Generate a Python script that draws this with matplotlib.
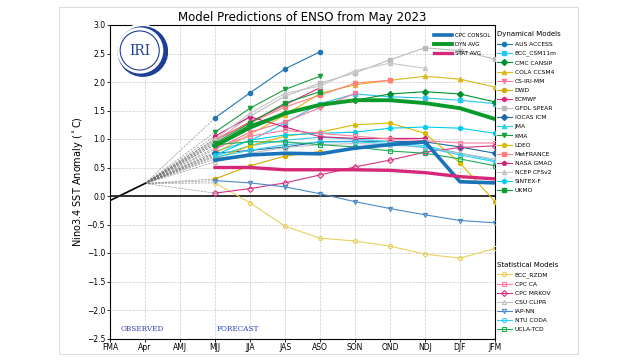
import numpy as np
import matplotlib
matplotlib.use("Agg")
from matplotlib import pyplot as plt
from matplotlib.patches import Circle, Rectangle

# season labels on the x axis
seasons = ['FMA', 'Apr', 'AMJ', 'MJJ', 'JJA', 'JAS', 'ASO', 'SON', 'OND', 'NDJ', 'DJF', 'JFM']

# observed values (FMA, Apr)
observed = [-0.08, 0.22]

# dynamical models, forecasts start at MJJ
aus_access = [1.37, 1.81, 2.23, 2.53]
bcc_csm11m = [0.78, 0.97, 1.28, 1.62, 1.79, 1.74, 1.72, 1.68, 1.62]
cmc_cansip = [0.90, 1.25, 1.45, 1.58, 1.68, 1.79, 1.83, 1.79, 1.65]
cola_ccsm4 = [0.75, 1.08, 1.42, 1.80, 1.95, 2.03, 2.10, 2.05, 1.91]
cs_iri_mm = [0.82, 1.12, 1.30, 1.55, 1.80]
dwd = [0.30, 0.53, 0.70, 0.78]
ecmwf = [0.97, 1.30, 1.60, 1.90]
gfdl_spear = [0.95, 1.40, 1.75, 1.98, 2.16, 2.39, 2.60, 2.55, 2.40]
iocas_icm = [0.75, 0.80, 0.86, 0.95, 0.96, 0.96, 0.95, 0.86, 0.75]
jma = [0.70, 0.88, 0.98, 1.03, 1.00, 0.95, 0.88, 0.75, 0.62]
kma = [1.12, 1.54, 1.87, 2.10]
ldeo = [0.65, 0.88, 1.05, 1.12, 1.25, 1.28, 1.10, 0.58, -0.10]
metfrance = [1.00, 1.28, 1.56, 1.77, 1.98, 2.03]
nasa_gmao = [1.05, 1.39, 1.21, 1.04, 1.01, 1.01, 1.01]
ncep_cfsv2 = [1.00, 1.45, 1.80, 1.93, 2.20, 2.33, 2.24]
sintex_f = [0.72, 0.98, 1.07, 1.10, 1.12, 1.19, 1.21, 1.19, 1.10]
ukmo = [0.93, 1.28, 1.63, 1.83]

# statistical models
bcc_rzdm = [0.23, -0.12, -0.53, -0.74, -0.79, -0.88, -1.02, -1.09, -0.92]
cpc_ca = [0.85, 1.05, 1.15, 1.10, 1.05, 1.00, 0.97, 0.93, 0.93]
cpc_mrkov = [0.05, 0.13, 0.23, 0.37, 0.51, 0.63, 0.77, 0.85, 0.88]
csu_clipr = [0.60, 0.75, 0.85, 0.90, 0.92, 0.90, 0.85, 0.75, 0.65]
iap_nn = [0.27, 0.23, 0.16, 0.04, -0.10, -0.22, -0.33, -0.43, -0.47]
ntu_coda = [0.68, 0.80, 0.90, 0.95, 0.95, 0.92, 0.85, 0.72, 0.60]
ucla_tcd = [0.90, 0.95, 0.95, 0.90, 0.86, 0.79, 0.75, 0.65, 0.53]

# averages
cpc_consol = [0.63, 0.72, 0.75, 0.74, 0.84, 0.90, 0.95, 0.25, 0.23]
dyn_avg = [0.88, 1.20, 1.45, 1.60, 1.68, 1.68, 1.63, 1.54, 1.35]
stat_avg = [0.50, 0.50, 0.46, 0.46, 0.46, 0.45, 0.41, 0.34, 0.30]

dyn_models = [
    ('AUS ACCESS', aus_access, '#1f77b4', 'o'),
    ('BCC_CSM11m', bcc_csm11m, '#2bc4f0', 's'),
    ('CMC CANSIP', cmc_cansip, '#008f2f', 'D'),
    ('COLA CCSM4', cola_ccsm4, '#dbb81c', '^'),
    ('CS-IRI-MM', cs_iri_mm, '#ff7799', 'v'),
    ('DWD', dwd, '#d4a900', 'o'),
    ('ECMWF', ecmwf, '#e0287a', 'h'),
    ('GFDL SPEAR', gfdl_spear, '#bbbbbb', 's'),
    ('IOCAS ICM', iocas_icm, '#1f66aa', 'D'),
    ('JMA', jma, '#33ccee', '^'),
    ('KMA', kma, '#1a9e3e', 'v'),
    ('LDEO', ldeo, '#d9b800', 'h'),
    ('MetFRANCE', metfrance, '#ff7f7f', 's'),
    ('NASA GMAO', nasa_gmao, '#cc2277', 'p'),
    ('NCEP CFSv2', ncep_cfsv2, '#c8c8c8', '^'),
    ('SINTEX-F', sintex_f, '#00ccee', 'h'),
    ('UKMO', ukmo, '#119933', 's'),
]
stat_models = [
    ('BCC_RZDM', bcc_rzdm, '#e8d060', 'o'),
    ('CPC CA', cpc_ca, '#ff7f9f', 's'),
    ('CPC MRKOV', cpc_mrkov, '#d63384', 'D'),
    ('CSU CLIPR', csu_clipr, '#c0c0c0', '^'),
    ('IAP-NN', iap_nn, '#4a8ac8', 'v'),
    ('NTU CODA', ntu_coda, '#33ccee', 'o'),
    ('UCLA-TCD', ucla_tcd, '#22aa55', 's'),
]
averages = [
    ('CPC CONSOL', cpc_consol, '#1a72b8', 2.6),
    ('DYN AVG', dyn_avg, '#0a9a2a', 2.8),
    ('STAT AVG', stat_avg, '#d62878', 2.4),
]

fig = plt.figure(figsize=(6.4, 3.6), dpi=100)
# light frame around the picture
fig.patches.append(Rectangle((59/640, 6/360), 519/640, 347/360, transform=fig.transFigure,
                             fill=False, edgecolor='#dddddd', linewidth=0.8))

ax = fig.add_axes([110/640, 21.5/360, 385/640, 313.5/360])
start = 3

# fan lines from last observation to first forecast
for name, vals, col, mk in dyn_models + stat_models:
    ax.plot([1, start], [observed[1], vals[0]], color='#666666', lw=0.45, ls='--', alpha=0.75, zorder=2)

ax.plot([0, 1], observed, color='black', lw=1.2, zorder=3)

dyn_handles = []
for name, vals, col, mk in dyn_models:
    x = np.arange(start, start + len(vals))
    h, = ax.plot(x, vals, color=col, lw=0.8, marker=mk, ms=3, label=name, zorder=4)
    dyn_handles.append(h)

stat_handles = []
for name, vals, col, mk in stat_models:
    x = np.arange(start, start + len(vals))
    h, = ax.plot(x, vals, color=col, lw=0.8, marker=mk, ms=3, mfc='none', mew=0.8,
                 label=name, zorder=4)
    stat_handles.append(h)

avg_handles = []
for name, vals, col, w in averages:
    x = np.arange(start, start + len(vals))
    h, = ax.plot(x, vals, color=col, lw=w, label=name, zorder=5)
    avg_handles.append(h)

ax.axhline(0, color='#222222', lw=1.3, zorder=3)

ax.set_xlim(0, 11)
ax.set_ylim(-2.5, 3.0)
ax.set_xticks(range(len(seasons)))
ax.set_xticklabels(seasons)
ax.set_yticks(np.arange(-2.5, 3.01, 0.5))
ax.tick_params(labelsize=5.5, length=2, width=0.6, pad=1.5)
ax.grid(True, color='#cccccc', ls='--', lw=0.5)
for s in ax.spines.values():
    s.set_linewidth(0.8)
ax.set_title('Model Predictions of ENSO from May 2023', fontsize=8.5, pad=3)
ax.set_ylabel('Nino3.4 SST Anomaly ($^\\circ$C)', fontsize=7, labelpad=1.5)

ax.text(0.29, -2.33, 'OBSERVED', color='#3344bb', family='DejaVu Serif', fontsize=5.2, va='center')
ax.text(3.03, -2.33, 'FORECAST', color='#3344bb', family='DejaVu Serif', fontsize=5.2, va='center')

leg_avg = ax.legend(handles=avg_handles, loc='upper right', bbox_to_anchor=(1.0, 0.99),
                    fontsize=4, frameon=False, handlelength=3.2, handletextpad=0.6,
                    labelspacing=0.75, borderaxespad=0.4)
ax.add_artist(leg_avg)
leg_dyn = ax.legend(handles=dyn_handles, title='Dynamical Models', loc='upper left',
                    bbox_to_anchor=(1.0, 0.985), fontsize=4.3, title_fontsize=5, frameon=False,
                    handlelength=2.5, handletextpad=0.5, labelspacing=0.66, borderaxespad=0.1,
                    borderpad=0.2)
leg_dyn._legend_box.align = 'left'
ax.add_artist(leg_dyn)
leg_stat = ax.legend(handles=stat_handles, title='Statistical Models', loc='upper left',
                     bbox_to_anchor=(1.0, 0.25), fontsize=4.3, title_fontsize=5, frameon=False,
                     handlelength=2.5, handletextpad=0.5, labelspacing=0.66, borderaxespad=0.1,
                     borderpad=0.2)
leg_stat._legend_box.align = 'left'

# IRI logo
lax = fig.add_axes([114/640, (360-78)/360, 54/640, 54/360])
lax.set_xlim(-1.05, 1.05)
lax.set_ylim(-1.05, 1.05)
lax.set_aspect('equal')
lax.axis('off')
lax.add_patch(Circle((0, 0), 1.02, color='white', zorder=1))
lax.add_patch(Circle((0.07, -0.02), 0.96, color='#1d3f94', zorder=2))
lax.add_patch(Circle((-0.03, 0.02), 0.87, color='white', zorder=3))
lax.add_patch(Circle((-0.05, 0.02), 0.76, fill=False, edgecolor='#1d3f94', lw=0.8, zorder=4))
lax.text(-0.06, 0.0, 'IRI', family='DejaVu Serif', fontsize=10, color='#1d3f94',
         ha='center', va='center', zorder=5)

fig.savefig('out.png', dpi=100)
